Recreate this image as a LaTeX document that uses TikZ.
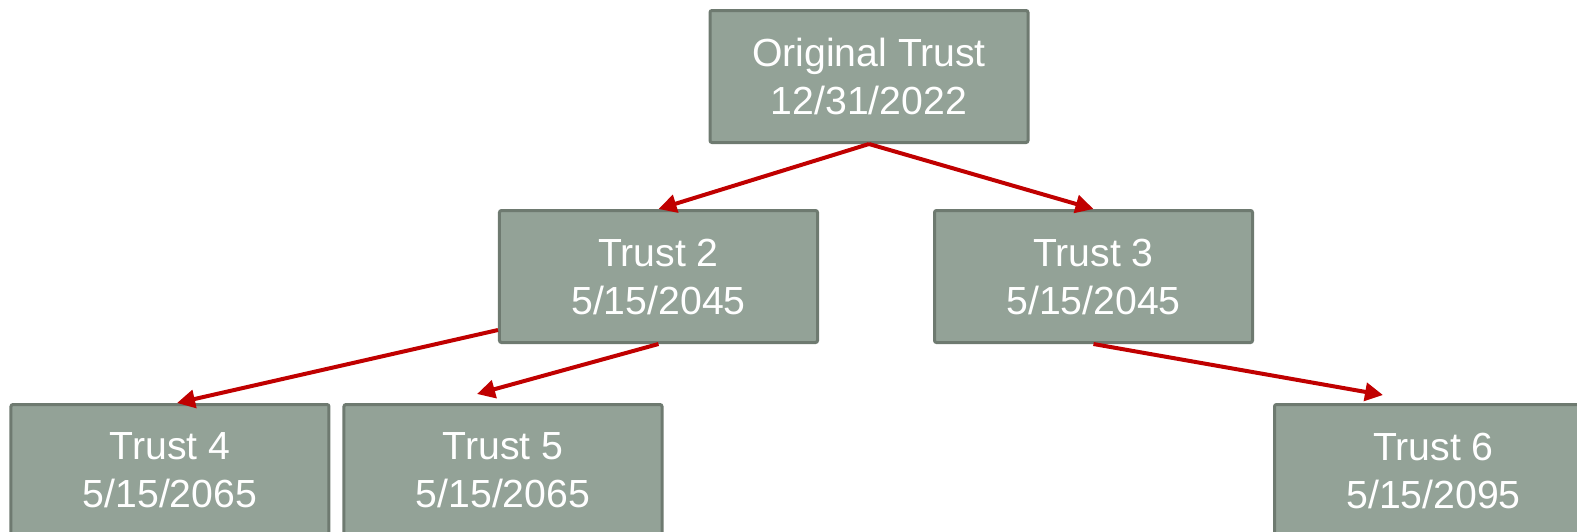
\documentclass[tikz,border=0pt]{standalone}
\usepackage{fontspec}
\setmainfont{Liberation Sans}
\usetikzlibrary{arrows.meta,positioning,calc}
\definecolor{trustfill}{RGB}{147,162,151}
\definecolor{trustline}{RGB}{110,122,112}
\definecolor{arrowred}{RGB}{192,0,0}

\begin{document}
\begin{tikzpicture}[
    trust/.style={draw=trustline, fill=trustfill, line width=1.5pt, rounded corners=1pt,
      minimum width=159pt, minimum height=66pt, inner sep=0pt, align=center, text=white,
      font=\fontsize{19.6pt}{24pt}\selectfont},
    link/.style={draw=arrowred, line width=2pt,
      -{Triangle[length=9pt,width=9pt,fill=arrowred]}}]
    \clip (-434.5pt,38.25pt) rectangle (354pt,-227.25pt);
    %root
    \node[trust] (orig) {Original Trust\\12/31/2022};
    %second level
    \node[trust] (t2) [below=32.5pt of orig, xshift=-105.25pt] {Trust 2\\5/15/2045};
    \node[trust] (t3) [below=32.5pt of orig, xshift=112.25pt] {Trust 3\\5/15/2045};
    %third level
    \node[trust] (t4) [below=29.5pt of t2, xshift=-244.25pt] {Trust 4\\5/15/2065};
    \node[trust] (t5) [right=6pt of t4] {Trust 5\\5/15/2065};
    \node[trust] (t6) [below=29.5pt of t3, xshift=170pt] {Trust 6\\5/15/2095};

    \coordinate (t4in) at ($(t2.south west)+(0,7pt)$);
    \coordinate (t4tip) at ($(t4.north)+(3.5pt,0)$);
    \coordinate (t5tip) at ($(t2.south)+(-90.75pt,-25pt)$);
    \coordinate (t6tip) at ($(t3.south)+(144.75pt,-25.5pt)$);
    \path
    (orig.south) edge[link] (t2.north)
    (orig.south) edge[link] (t3.north)
    (t4in) edge[link] (t4tip)
    (t2.south) edge[link] (t5tip)
    (t3.south) edge[link] (t6tip);
\end{tikzpicture}
\end{document}
